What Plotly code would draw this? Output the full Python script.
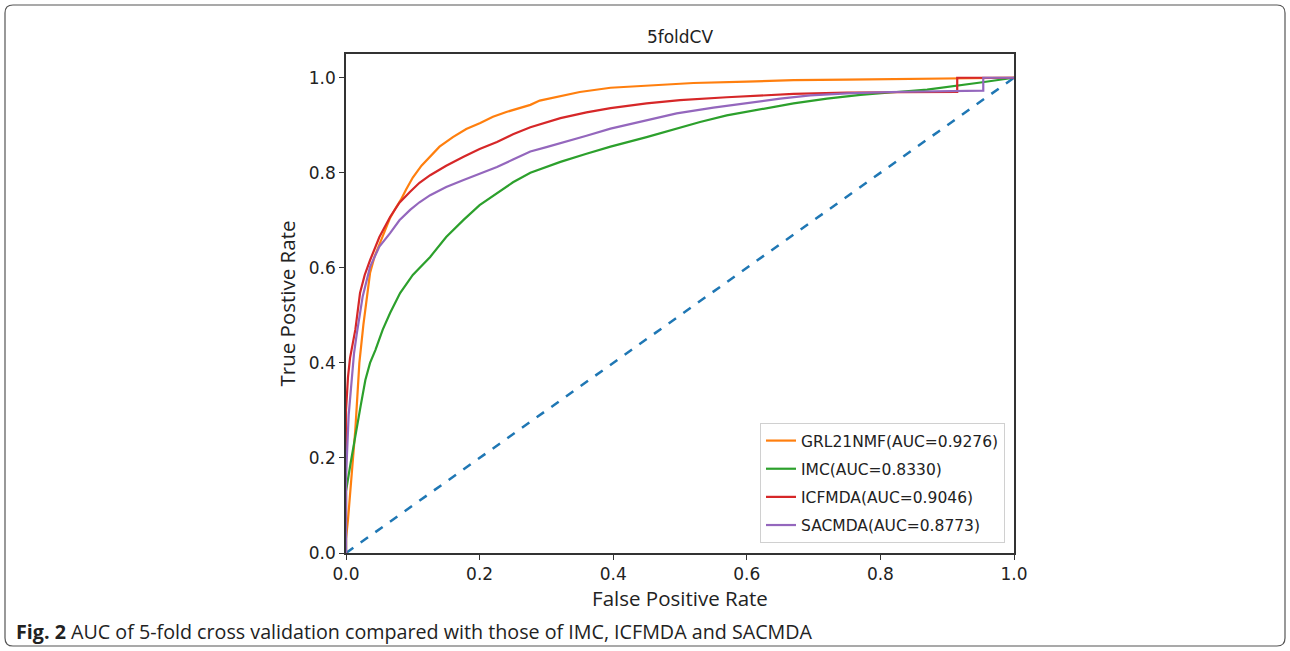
import plotly.graph_objects as go

# ---------------- data ----------------
grl_fpr = [0, 0, 0.003, 0.006, 0.010, 0.014, 0.017, 0.020, 0.026, 0.031, 0.036, 0.043, 0.051, 0.058, 0.066, 0.074, 0.082, 0.090, 0.100, 0.113, 0.126, 0.140, 0.160, 0.180, 0.201, 0.220, 0.240, 0.260, 0.276, 0.290, 0.300, 0.321, 0.350, 0.396, 0.450, 0.520, 0.600, 0.670, 0.750, 0.815, 0.900, 1.0]
grl_tpr = [0, 0.03, 0.07, 0.118, 0.19, 0.26, 0.33, 0.40, 0.48, 0.54, 0.589, 0.625, 0.654, 0.680, 0.705, 0.725, 0.743, 0.765, 0.790, 0.815, 0.835, 0.855, 0.875, 0.892, 0.905, 0.918, 0.928, 0.937, 0.943, 0.952, 0.955, 0.962, 0.970, 0.979, 0.984, 0.989, 0.992, 0.995, 0.996, 0.997, 0.998, 1.0]

imc_fpr = [0, 0, 0.007, 0.014, 0.022, 0.029, 0.036, 0.044, 0.055, 0.066, 0.081, 0.100, 0.126, 0.150, 0.176, 0.200, 0.226, 0.250, 0.276, 0.300, 0.321, 0.360, 0.396, 0.450, 0.495, 0.530, 0.570, 0.620, 0.670, 0.720, 0.770, 0.815, 0.870, 0.950, 1.0]
imc_tpr = [0, 0.13, 0.19, 0.25, 0.31, 0.364, 0.40, 0.427, 0.47, 0.505, 0.547, 0.585, 0.623, 0.665, 0.701, 0.732, 0.757, 0.780, 0.800, 0.813, 0.823, 0.840, 0.855, 0.875, 0.893, 0.907, 0.921, 0.934, 0.946, 0.956, 0.964, 0.969, 0.975, 0.990, 1.0]

icf_fpr = [0, 0, 0.003, 0.006, 0.010, 0.014, 0.021, 0.028, 0.036, 0.050, 0.066, 0.080, 0.096, 0.110, 0.126, 0.150, 0.176, 0.200, 0.226, 0.250, 0.276, 0.300, 0.321, 0.360, 0.396, 0.450, 0.500, 0.570, 0.620, 0.670, 0.750, 0.815, 0.915, 0.915, 1.0]
icf_tpr = [0, 0.30, 0.37, 0.41, 0.44, 0.47, 0.547, 0.585, 0.616, 0.665, 0.707, 0.737, 0.760, 0.779, 0.795, 0.815, 0.834, 0.850, 0.865, 0.881, 0.896, 0.906, 0.915, 0.927, 0.936, 0.946, 0.953, 0.959, 0.963, 0.966, 0.969, 0.970, 0.970, 1.0, 1.0]

sac_fpr = [0, 0, 0.004, 0.008, 0.012, 0.016, 0.025, 0.036, 0.050, 0.066, 0.080, 0.096, 0.110, 0.126, 0.150, 0.176, 0.200, 0.226, 0.250, 0.276, 0.300, 0.321, 0.360, 0.396, 0.450, 0.495, 0.550, 0.595, 0.650, 0.695, 0.750, 0.815, 0.900, 0.954, 0.954, 1.0]
sac_tpr = [0, 0.16, 0.29, 0.36, 0.42, 0.46, 0.54, 0.602, 0.645, 0.673, 0.700, 0.722, 0.738, 0.753, 0.770, 0.785, 0.798, 0.812, 0.828, 0.845, 0.854, 0.862, 0.878, 0.893, 0.910, 0.925, 0.937, 0.946, 0.956, 0.963, 0.967, 0.970, 0.972, 0.973, 1.0, 1.0]

diag = [0, 1]

names = ["GRL21NMF(AUC=0.9276)", "IMC(AUC=0.8330)", "ICFMDA(AUC=0.9046)", "SACMDA(AUC=0.8773)"]
colors = ["#ff7f0e", "#2ca02c", "#d62728", "#9467bd"]

# ---------------- layout geometry ----------------
W, H = 1290, 651
L, R, T, B = 346, 1014, 54, 553


def px2x(px):
    return (px - L) / (R - L)


def py2y(py):
    return (B - py) / (B - T)


fig = go.Figure()
fig.add_trace(go.Scatter(x=diag, y=diag, mode="lines", showlegend=False,
                         line=dict(color="#1f77b4", width=2.5, dash="dash"), hoverinfo="skip"))
series = [(grl_fpr, grl_tpr), (imc_fpr, imc_tpr), (icf_fpr, icf_tpr), (sac_fpr, sac_tpr)]
for i, ((xs, ys), nm, c) in enumerate(zip(series, names, colors)):
    fig.add_trace(go.Scatter(x=xs, y=ys, mode="lines", name=nm, legendgroup=str(i),
                             line=dict(color=c, width=2.2)))

axis_common = dict(showline=True, mirror=True, linecolor="#333333", linewidth=1.5,
                   ticks="outside", ticklen=5, tickwidth=1.2, tickcolor="#333333",
                   showgrid=False, zeroline=False,
                   tickfont=dict(family="DejaVu Sans", size=17, color="#222222"))

label_font = dict(family="Open Sans", size=20.5, color="#222222")
fig.update_xaxes(range=[0, 1], tickvals=[0, 0.2, 0.4, 0.6, 0.8, 1.0], tickformat=".1f",
                 title=dict(text="False Positive Rate", font=label_font, standoff=6),
                 **axis_common)
fig.update_yaxes(range=[0, 1.05], tickvals=[0, 0.2, 0.4, 0.6, 0.8, 1.0], tickformat=".1f",
                 title=dict(text="True Postive Rate", font=label_font, standoff=8),
                 **axis_common)

fig.update_layout(
    width=W, height=H,
    margin=dict(l=L, r=W - R, t=T, b=H - B),
    paper_bgcolor="white", plot_bgcolor="white",
    title=dict(text="5foldCV", x=0.5 * (L + R) / W, xanchor="center", y=1 - 37 / H, yanchor="middle",
               font=dict(family="DejaVu Sans", size=17, color="#222222")),
    legend=dict(x=px2x(1005), y=py2y(543), xanchor="right", yanchor="bottom",
                bgcolor="white", bordercolor="#d0d0d0", borderwidth=1,
                font=dict(family="DejaVu Sans", size=15.5, color="#222222"),
                tracegroupgap=5, itemwidth=30),
    showlegend=True,
)

# outer rounded border
rx = 8
bx0, by0, bx1, by1 = 5, 5, 1285, 646
path = (f"M {px2x(bx0 + rx)} {py2y(by0)} L {px2x(bx1 - rx)} {py2y(by0)} "
        f"Q {px2x(bx1)} {py2y(by0)} {px2x(bx1)} {py2y(by0 + rx)} "
        f"L {px2x(bx1)} {py2y(by1 - rx)} Q {px2x(bx1)} {py2y(by1)} {px2x(bx1 - rx)} {py2y(by1)} "
        f"L {px2x(bx0 + rx)} {py2y(by1)} Q {px2x(bx0)} {py2y(by1)} {px2x(bx0)} {py2y(by1 - rx)} "
        f"L {px2x(bx0)} {py2y(by0 + rx)} Q {px2x(bx0)} {py2y(by0)} {px2x(bx0 + rx)} {py2y(by0)} Z")
fig.add_shape(type="path", path=path, xref="paper", yref="paper",
              line=dict(color="#555555", width=1.2), fillcolor="rgba(0,0,0,0)", layer="below")

fig.add_annotation(text="<b>Fig. 2</b> AUC of 5-fold cross validation compared with those of IMC, ICFMDA and SACMDA",
                   xref="paper", yref="paper", x=px2x(14), y=py2y(631), xanchor="left", yanchor="middle",
                   showarrow=False, font=dict(family="Open Sans", size=19.7, color="#222222"))

fig.write_html("out.html", config={"displayModeBar": False},
               post_script="document.body.style.margin='0';document.body.style.overflow='hidden';")
